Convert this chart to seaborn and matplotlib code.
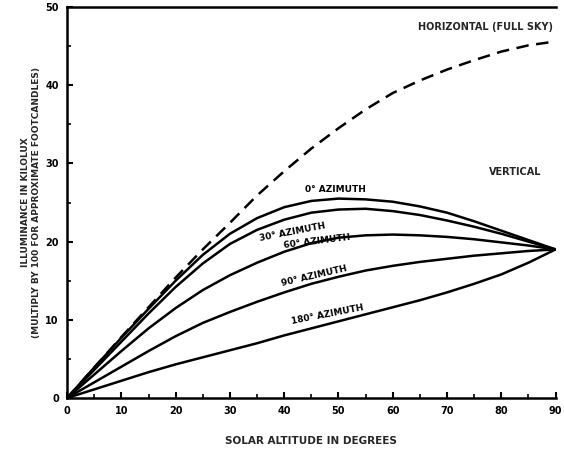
import numpy as np
import pandas as pd
import seaborn as sns
import matplotlib
matplotlib.use("Agg")
import matplotlib.pyplot as plt
from matplotlib.ticker import MultipleLocator

# ---- data ----
altitude = [0, 5, 10, 15, 20, 25, 30, 35, 40, 45, 50, 55, 60, 65, 70, 75, 80, 85, 90]
horizontal = [0, 3.9, 7.8, 11.6, 15.4, 19.0, 22.4, 25.9, 29.0, 31.9, 34.5, 36.9, 39.0, 40.6, 42.0, 43.2, 44.3, 45.1, 45.6]
az_0 = [0, 3.9, 7.7, 11.4, 15.0, 18.3, 21.0, 23.0, 24.4, 25.2, 25.5, 25.4, 25.1, 24.5, 23.7, 22.6, 21.4, 20.2, 19.0]
az_30 = [0, 3.6, 7.2, 10.8, 14.2, 17.2, 19.7, 21.5, 22.8, 23.7, 24.1, 24.2, 23.9, 23.4, 22.7, 21.9, 21.0, 20.0, 19.0]
az_60 = [0, 3.0, 6.0, 8.9, 11.5, 13.8, 15.7, 17.3, 18.7, 19.8, 20.5, 20.8, 20.9, 20.8, 20.6, 20.3, 19.9, 19.5, 19.0]
az_90 = [0, 2.0, 4.0, 6.0, 7.9, 9.6, 11.0, 12.3, 13.5, 14.6, 15.5, 16.3, 16.9, 17.4, 17.8, 18.2, 18.5, 18.8, 19.0]
az_180 = [0, 1.1, 2.2, 3.3, 4.3, 5.2, 6.1, 7.0, 8.0, 8.9, 9.8, 10.7, 11.6, 12.5, 13.5, 14.6, 15.8, 17.3, 19.0]

x_ticks = [0, 10, 20, 30, 40, 50, 60, 70, 80, 90]
y_ticks = [0, 10, 20, 30, 40, 50]

series_labels = ["0° AZIMUTH", "30° AZIMUTH", "60° AZIMUTH", "90° AZIMUTH", "180° AZIMUTH"]
label_x = [49.5, 41.5, 46.0, 45.5, 48.0]
label_y = [26.6, 21.2, 20.0, 15.6, 10.7]
label_rot = [0, 11, 7, 13, 11]

# ---- figure ----
sns.set_theme(style="white")
plt.rcParams["font.family"] = ["DejaVu Sans"]
fig = plt.figure(figsize=(5.64, 4.5), dpi=100)
ax = fig.add_axes([0.119, 0.1156, 0.866, 0.8688])

df_h = pd.DataFrame({"alt": altitude, "val": horizontal})
sns.lineplot(data=df_h, x="alt", y="val", ax=ax, color="black", linewidth=1.8)
ax.lines[-1].set_linestyle((0, (5, 3)))

for vals in [az_0, az_30, az_60, az_90, az_180]:
    d = pd.DataFrame({"alt": altitude, "val": vals})
    sns.lineplot(data=d, x="alt", y="val", ax=ax, color="black", linewidth=1.8)

tfont = dict(fontsize=6.5, fontweight="bold", color="black")
for lbl, lx, ly, rot in zip(series_labels, label_x, label_y, label_rot):
    ax.text(lx, ly, lbl, ha="center", va="center", rotation=rot, **tfont)
ax.text(89.5, 47.4, "HORIZONTAL (FULL SKY)", ha="right", va="center", fontsize=7, fontweight="bold")
ax.text(82.5, 28.9, "VERTICAL", ha="center", va="center", fontsize=7, fontweight="bold")

ax.set_xlim(0, 90)
ax.set_ylim(0, 50)
ax.set_xticks(x_ticks)
ax.set_yticks(y_ticks)
ax.xaxis.set_minor_locator(MultipleLocator(5))
ax.yaxis.set_minor_locator(MultipleLocator(5))
ax.tick_params(which="major", direction="in", length=4, width=1.5, colors="black",
               labelsize=7, pad=6)
ax.tick_params(which="minor", direction="in", length=3, width=1.2, colors="black")
ax.tick_params(axis="x", which="both", bottom=True, top=False)
ax.tick_params(axis="y", which="both", left=True, right=False)
for t in ax.get_xticklabels() + ax.get_yticklabels():
    t.set_fontweight("bold")

for s in ["left", "bottom", "top"]:
    ax.spines[s].set_visible(True)
    ax.spines[s].set_color("black")
    ax.spines[s].set_linewidth(1.8)
ax.spines["right"].set_visible(False)

ax.set_xlabel("SOLAR ALTITUDE IN DEGREES", fontsize=7.5, fontweight="bold", labelpad=14)
ax.set_ylabel("ILLUMINANCE IN KILOLUX\n(MULTIPLY BY 100 FOR APPROXIMATE FOOTCANDLES)",
              fontsize=6.5, fontweight="bold", linespacing=1.3)
ax.yaxis.set_label_coords(-0.054, 0.5)

fig.savefig("out.png", dpi=100)
